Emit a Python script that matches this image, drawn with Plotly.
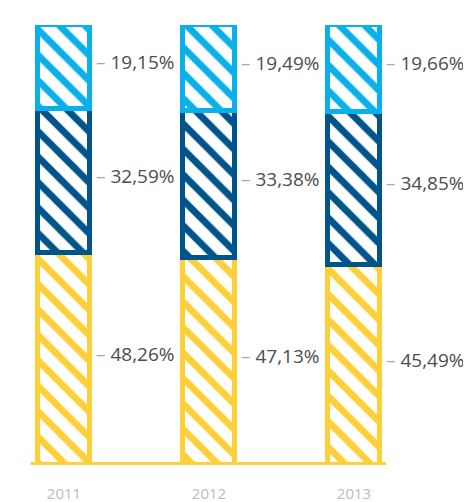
import plotly.graph_objects as go

years = ["2011", "2012", "2013"]
bottom_vals = [48.26, 47.13, 45.49]
middle_vals = [32.59, 33.38, 34.85]
top_vals = [19.15, 19.49, 19.66]

series = [
    (bottom_vals, "#FDD03A"),
    (middle_vals, "#00548C"),
    (top_vals, "#0AB0EA"),
]

xs = list(range(len(years)))
fig = go.Figure()
bar_w = 0.36
for vals, col in series:
    fig.add_trace(go.Bar(
        x=xs, y=vals, width=bar_w,
        marker=dict(
            color="white",
            line=dict(color=col, width=5),
            pattern=dict(shape="\\", fgcolor=col, bgcolor="white", fgopacity=1,
                         size=18, solidity=0.38),
        ),
        showlegend=False, hoverinfo="skip",
    ))

annotations = []
for i in xs:
    base = 0
    for vals, col in series:
        v = vals[i]
        annotations.append(dict(
            x=i + bar_w / 2 + 0.03, y=base + v / 2, xref="x", yref="y",
            text="<span style='color:#aaaaaa'>–</span> " + f"{v:.2f}".replace(".", ",") + "%",
            showarrow=False, xanchor="left", yanchor="middle", yshift=5,
            font=dict(family="Open Sans", size=19, color="#4d4d4d"),
        ))
        base += v

fig.add_shape(type="line", xref="x", yref="y", x0=-0.23, x1=2.22, y0=0, y1=0,
              line=dict(color="#FDD03A", width=6))

fig.update_layout(
    width=463, height=494,
    margin=dict(l=0, r=0, t=17, b=37),
    barmode="stack",
    bargap=0,
    plot_bgcolor="white", paper_bgcolor="white",
    annotations=annotations,
    xaxis=dict(range=[-0.386, 2.807], tickmode="array", tickvals=xs, ticktext=years,
               showgrid=False, zeroline=False, showline=False, ticks="",
               ticklabelstandoff=18,
               tickfont=dict(family="Open Sans", size=15, color="#bbbbbb")),
    yaxis=dict(range=[0, 100], visible=False, showgrid=False, zeroline=False),
)

fig.write_html("out.html")
